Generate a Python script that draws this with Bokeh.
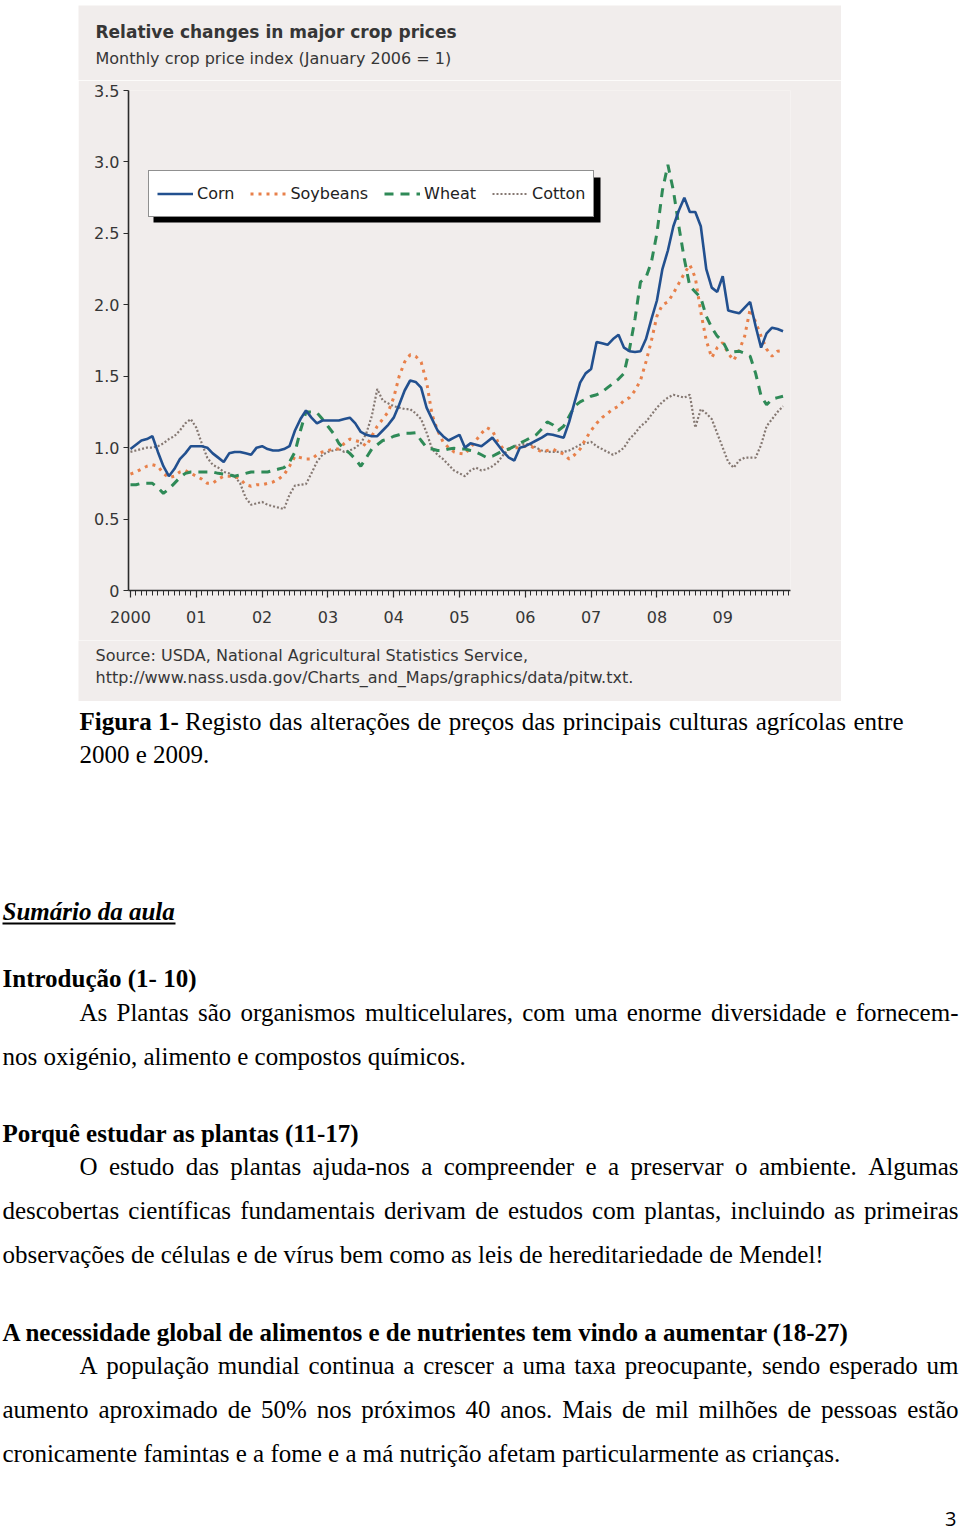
import numpy as np
from bokeh.plotting import figure
from bokeh.models import Range1d, FixedTicker, Legend, LegendItem, BoxAnnotation, Spacer
from bokeh.layouts import column, row
from bokeh.core.properties import value
from bokeh.embed import file_html
from bokeh.resources import INLINE

# ---------------- data (monthly index, January 2006 = 1), Jan 2000 .. Dec 2009 ----------------
corn = [0.99, 1.02, 1.05, 1.06, 1.08, 0.97, 0.87, 0.80, 0.85, 0.92, 0.96, 1.01,
        1.01, 1.01, 1.00, 0.96, 0.93, 0.90, 0.96, 0.97, 0.97, 0.96, 0.95, 1.00,
        1.01, 0.99, 0.98, 0.98, 0.99, 1.01, 1.12, 1.20, 1.26, 1.21, 1.17, 1.19,
        1.19, 1.19, 1.19, 1.20, 1.21, 1.17, 1.11, 1.09, 1.08, 1.08, 1.12, 1.16,
        1.21, 1.30, 1.40, 1.47, 1.46, 1.42, 1.28, 1.20, 1.12, 1.08, 1.05, 1.07,
        1.09, 1.00, 1.03, 1.02, 1.01, 1.04, 1.07, 1.02, 0.97, 0.93, 0.91, 1.00,
        1.01, 1.03, 1.05, 1.07, 1.095, 1.09, 1.08, 1.07, 1.18, 1.32, 1.455, 1.52,
        1.55, 1.74, 1.73, 1.72, 1.76, 1.79, 1.70, 1.675, 1.67, 1.675, 1.76, 1.90,
        2.03, 2.25, 2.38, 2.55, 2.66, 2.75, 2.65, 2.65, 2.55, 2.25, 2.12, 2.09,
        2.20, 1.96, 1.95, 1.94, 1.98, 2.02, 1.85, 1.70, 1.80, 1.84, 1.83, 1.815]

soybeans = [0.815, 0.83, 0.85, 0.87, 0.88, 0.87, 0.82, 0.79, 0.80, 0.83, 0.84, 0.82,
            0.80, 0.78, 0.75, 0.75, 0.78, 0.80, 0.80, 0.80, 0.78, 0.74, 0.73, 0.74,
            0.74, 0.75, 0.76, 0.78, 0.81, 0.87, 0.94, 0.93, 0.92, 0.92, 0.95, 0.97,
            0.98, 0.99, 0.99, 1.03, 1.06, 1.05, 1.04, 1.01, 1.08, 1.15, 1.20, 1.25,
            1.35, 1.50, 1.60, 1.65, 1.64, 1.60, 1.46, 1.23, 1.12, 1.04, 1.00, 0.97,
            0.96, 0.955, 1.00, 1.05, 1.10, 1.14, 1.12, 1.04, 0.99, 0.99, 1.00, 1.00,
            1.01, 1.01, 0.99, 0.97, 0.98, 0.99, 0.97, 0.955, 0.92, 0.95, 0.99, 1.06,
            1.12, 1.17, 1.21, 1.24, 1.27, 1.29, 1.33, 1.35, 1.40, 1.47, 1.60, 1.75,
            1.92, 2.00, 2.02, 2.08, 2.15, 2.22, 2.28, 2.19, 1.95, 1.75, 1.63, 1.70,
            1.735, 1.66, 1.61, 1.68, 1.78, 1.97, 1.88, 1.78, 1.69, 1.64, 1.675, 1.68]

wheat = [0.74, 0.74, 0.75, 0.75, 0.75, 0.72, 0.68, 0.71, 0.75, 0.79, 0.82, 0.83,
         0.83, 0.83, 0.83, 0.83, 0.82, 0.815, 0.81, 0.80, 0.81, 0.82, 0.83, 0.83,
         0.83, 0.83, 0.84, 0.85, 0.86, 0.90, 0.97, 1.12, 1.25, 1.25, 1.245, 1.20,
         1.15, 1.10, 1.03, 0.99, 0.96, 0.92, 0.87, 0.93, 0.99, 1.02, 1.05, 1.06,
         1.08, 1.09, 1.10, 1.10, 1.105, 1.05, 1.00, 0.99, 0.98, 0.98, 0.99, 0.995,
         0.99, 0.99, 0.98, 0.97, 0.95, 0.93, 0.94, 0.96, 0.98, 0.99, 1.01, 1.03,
         1.05, 1.07, 1.09, 1.13, 1.18, 1.16, 1.12, 1.15, 1.22, 1.29, 1.32, 1.34,
         1.36, 1.37, 1.39, 1.42, 1.45, 1.48, 1.52, 1.69, 1.90, 2.16, 2.19, 2.30,
         2.50, 2.80, 2.98, 2.80, 2.55, 2.32, 2.13, 2.09, 2.05, 1.92, 1.84, 1.78,
         1.745, 1.67, 1.67, 1.675, 1.66, 1.64, 1.52, 1.36, 1.30, 1.34, 1.35, 1.36]

cotton = [0.97, 0.98, 0.99, 1.00, 1.00, 1.01, 1.03, 1.06, 1.08, 1.12, 1.17, 1.20,
          1.14, 1.03, 0.93, 0.88, 0.86, 0.83, 0.82, 0.80, 0.75, 0.65, 0.60, 0.61,
          0.62, 0.60, 0.59, 0.58, 0.57, 0.67, 0.735, 0.74, 0.745, 0.82, 0.90, 0.95,
          0.97, 0.98, 0.99, 0.97, 0.98, 1.00, 1.03, 1.10, 1.22, 1.41, 1.33, 1.31,
          1.29, 1.28, 1.27, 1.27, 1.24, 1.20, 1.105, 0.99, 0.95, 0.92, 0.88, 0.84,
          0.82, 0.80, 0.84, 0.86, 0.84, 0.85, 0.87, 0.90, 0.95, 0.99, 1.01, 1.02,
          1.025, 1.02, 1.00, 0.98, 0.97, 0.97, 0.97, 0.97, 0.98, 1.00, 1.02, 1.03,
          1.04, 1.01, 0.99, 0.97, 0.95, 0.97, 1.00, 1.06, 1.10, 1.15, 1.18, 1.23,
          1.28, 1.32, 1.35, 1.37, 1.36, 1.35, 1.37, 1.14, 1.27, 1.24, 1.20, 1.10,
          1.00, 0.90, 0.86, 0.91, 0.93, 0.93, 0.93, 1.02, 1.15, 1.20, 1.25, 1.29]

series_names = ["Corn", "Soybeans", "Wheat", "Cotton"]
months = 2000 + np.arange(len(corn)) / 12.0          # month starts, Jan 2000 .. Dec 2009

year_ticks = [2000, 2001, 2002, 2003, 2004, 2005, 2006, 2007, 2008, 2009]
year_labels = ["2000", "01", "02", "03", "04", "05", "06", "07", "08", "09"]
month_ticks = [2000 + k / 12.0 for k in range(121)]
y_ticks = [0, 0.5, 1.0, 1.5, 2.0, 2.5, 3.0, 3.5]
y_labels = ["0", "0.5", "1.0", "1.5", "2.0", "2.5", "3.0", "3.5"]

title_text = "Relative changes in major crop prices"
subtitle_text = "Monthly crop price index (January 2006 = 1)"
source_lines = ["Source: USDA, National Agricultural Statistics Service,",
                "http://www.nass.usda.gov/Charts_and_Maps/graphics/data/pitw.txt."]

# ---------------- styling ----------------
CHART_BG = "#f1edec"
AX = "#2b2b2b"
TXT = "#363636"
SANS = "DejaVu Sans"
TY = 9   # baseline correction for 25px serif text glyphs


def no_align(f):
    try:
        f.frame_align = False
    except Exception:
        pass
    return f


def blank(width, height, xr, yr, bg):
    f = figure(width=width, height=height, x_range=Range1d(*xr), y_range=Range1d(*yr),
               output_backend="svg", toolbar_location=None,
               x_axis_type=None, y_axis_type=None, min_border=0,
               outline_line_color=None, background_fill_color=bg, border_fill_color=bg)
    f.grid.visible = False
    return no_align(f)


# ---------------- chart header (title, subtitle) ----------------
head = blank(763, 75, (78, 841), (80, 5), CHART_BG)
head.text(x=[95], y=[31], text=[title_text], text_font=value(SANS),
          text_font_size=value("17px"), text_font_style="bold", text_color=TXT,
          text_baseline="alphabetic")
head.text(x=[95], y=[58], text=[subtitle_text], text_font=value(SANS),
          text_font_size=value("16px"), text_color=TXT, text_baseline="alphabetic")

# ---------------- chart ----------------
chart = figure(width=763, height=560,
               x_range=Range1d(1999.97, 2010.03), y_range=Range1d(0, 3.5),
               output_backend="svg", toolbar_location=None,
               min_border_left=50, min_border_right=51, min_border_top=10, min_border_bottom=50,
               background_fill_color=CHART_BG, border_fill_color=CHART_BG,
               outline_line_color=None)
chart.grid.visible = False
no_align(chart)

xa = chart.xaxis[0]
xa.ticker = FixedTicker(ticks=year_ticks, minor_ticks=month_ticks)
xa.major_label_overrides = {t: l for t, l in zip(year_ticks, year_labels)}
xa.major_tick_in = 0
xa.major_tick_out = 7
xa.minor_tick_in = 0
xa.minor_tick_out = 5
xa.major_label_standoff = 13

ya = chart.yaxis[0]
ya.ticker = FixedTicker(ticks=y_ticks, minor_ticks=[])
ya.major_label_overrides = {t: l for t, l in zip(y_ticks, y_labels)}
ya.major_tick_in = 0
ya.major_tick_out = 5
ya.major_label_standoff = 4

for ax in (xa, ya):
    ax.axis_line_color = AX
    ax.axis_line_width = 1.6
    ax.major_tick_line_color = AX
    ax.minor_tick_line_color = AX
    ax.major_tick_line_width = 1.2
    ax.minor_tick_line_width = 1
    ax.major_label_text_font = SANS
    ax.major_label_text_font_size = "16px"
    ax.major_label_text_color = TXT

r_cotton = chart.line(months, cotton, line_color="#857872", line_width=2.2, line_dash="2 2")
r_soy = chart.line(months, soybeans, line_color="#e8804a", line_width=3, line_dash="3 5")
r_wheat = chart.line(months, wheat, line_color="#2f8a57", line_width=3, line_dash="9 7")
r_corn = chart.line(months, corn, line_color="#22508f", line_width=2.6)

shadow = BoxAnnotation(left=25, right=472, bottom=368, top=413,
                       left_units="screen", right_units="screen",
                       bottom_units="screen", top_units="screen",
                       fill_color="black", fill_alpha=1, line_color=None)
chart.add_layout(shadow)

legend = Legend(items=[LegendItem(label=series_names[0], renderers=[r_corn]),
                       LegendItem(label=series_names[1], renderers=[r_soy]),
                       LegendItem(label=series_names[2], renderers=[r_wheat]),
                       LegendItem(label=series_names[3], renderers=[r_cotton])],
                location=(20, 373), orientation="horizontal",
                glyph_width=36, glyph_height=29, label_height=29, label_standoff=4,
                spacing=16, padding=8, margin=0,
                label_text_font=SANS, label_text_font_size="16px", label_text_color="#222222",
                border_line_color="#222222", border_line_width=1.3,
                background_fill_color="white", background_fill_alpha=1)
chart.add_layout(legend)

# ---------------- chart footer (source) ----------------
foot = blank(763, 61, (78, 841), (701, 640), CHART_BG)
foot.text(x=[95, 95], y=[655, 677], text=source_lines, text_font=value(SANS),
          text_font_size=value("16px"), text_color=TXT, text_baseline="alphabetic")

# ---------------- page text ----------------
SERIF = "Liberation Serif"
FS = 25
_lower = dict(zip("abcdefghijklmnopqrstuvwxyz",
                  [444, 500, 444, 500, 444, 333, 500, 500, 278, 278, 500, 278, 778,
                   500, 500, 500, 500, 333, 389, 278, 500, 500, 722, 500, 500, 444]))
_upper = dict(zip("ABCDEFGHIJKLMNOPQRSTUVWXYZ",
                  [722, 667, 667, 722, 611, 556, 722, 722, 333, 389, 722, 611, 889,
                   722, 722, 556, 722, 667, 556, 611, 722, 722, 944, 722, 722, 611]))
W = {" ": 250, "!": 333, "%": 833, "(": 333, ")": 333, ",": 250, "-": 333, ".": 250}
W.update(_lower)
W.update(_upper)
W.update({d: 500 for d in "0123456789"})
ACC = {"ã": "a", "á": "a", "â": "a", "à": "a", "é": "e", "ê": "e", "í": "i",
       "ó": "o", "ô": "o", "õ": "o", "ú": "u", "ç": "c"}


def tw(s):
    return sum(W.get(ACC.get(c, c), 500) for c in s) * FS / 1000.0


reg_x, reg_y, reg_t = [], [], []
bold_x, bold_y, bold_t = [], [], []


def add_reg(x, y, t):
    reg_x.append(x); reg_y.append(y - TY); reg_t.append(t)


def add_bold(x, y, t):
    bold_x.append(x); bold_y.append(y - TY); bold_t.append(t)


def add_just(line, x0, x1, y):
    words = line.split(" ")
    widths = [tw(w) for w in words]
    gap = (x1 - x0 - sum(widths)) / (len(words) - 1)
    x = x0
    for w, wd in zip(words, widths):
        add_reg(x, y, w)
        x += wd + gap


# caption
add_bold(79, 730, "Figura 1-")
fig_bold_w = (611 + 278 + 500 + 556 + 444 + 500 + 250 + 500 + 333) * FS / 1000.0
add_just("Registo das alterações de preços das principais culturas agrícolas entre",
         79 + fig_bold_w + 250 * FS / 1000.0, 903, 730)
add_reg(79, 763, "2000 e 2009.")

# section 1
add_bold(2, 987, "Introdução (1- 10)")
add_just("As Plantas são organismos multicelulares, com uma enorme diversidade e fornecem-", 79, 958, 1021)
add_reg(2, 1065, "nos oxigénio, alimento e compostos químicos.")

# section 2
add_bold(2, 1142, "Porquê estudar as plantas (11-17)")
add_just("O estudo das plantas ajuda-nos a compreender e a preservar o ambiente. Algumas", 79, 958, 1175)
add_just("descobertas científicas fundamentais derivam de estudos com plantas, incluindo as primeiras", 2, 958, 1219)
add_reg(2, 1263, "observações de células e de vírus bem como as leis de hereditariedade de Mendel!")

# section 3
add_bold(2, 1341, "A necessidade global de alimentos e de nutrientes tem vindo a aumentar (18-27)")
add_just("A população mundial continua a crescer a uma taxa preocupante, sendo esperado um", 79, 958, 1374)
add_just("aumento aproximado de 50% nos próximos 40 anos. Mais de mil milhões de pessoas estão", 2, 958, 1418)
add_reg(2, 1462, "cronicamente famintas e a fome e a má nutrição afetam particularmente as crianças.")

page = blank(960, 829, (0, 960), (1530, 701), "white")
page.text(x=reg_x, y=reg_y, text=reg_t, text_font=value(SERIF), text_font_size=value("25px"),
          text_baseline="alphabetic", text_align="left", text_color="black")
page.text(x=bold_x, y=bold_y, text=bold_t, text_font=value(SERIF), text_font_size=value("25px"),
          text_font_style="bold", text_baseline="alphabetic", text_align="left", text_color="black")
page.text(x=[2], y=[920 - TY], text=["Sumário da aula"], text_font=value(SERIF),
          text_font_size=value("25px"), text_font_style="bold italic",
          text_baseline="alphabetic", text_align="left", text_color="black")
page.segment(x0=[2], y0=[923], x1=[175], y1=[923], line_color="black", line_width=2)
page.text(x=[956], y=[1527 - TY], text=["3"], text_font=value("Open Sans"), text_font_size=value("20px"),
          text_baseline="alphabetic", text_align="right", text_color="black")

layout = column(Spacer(width=960, height=5),
                row(Spacer(width=78, height=75), head),
                row(Spacer(width=78, height=560), chart),
                row(Spacer(width=78, height=61), foot),
                page)

with open("out.html", "w") as f:
    f.write(file_html(layout, INLINE))
